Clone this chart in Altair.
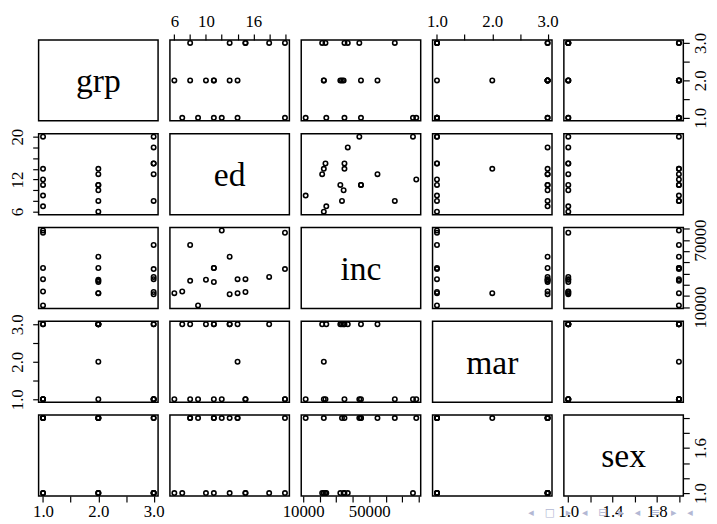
import altair as alt
import pandas as pd

variables = ["grp", "ed", "inc", "mar", "sex"]

grp = [1, 1, 1, 1, 1, 1, 2, 2, 2, 2, 2, 2, 2, 3, 3, 3, 3, 3, 3]
ed = [20, 14, 12, 11, 9, 7, 14, 13, 11, 11, 10, 8, 6, 20, 18, 15, 15, 13, 8]
inc = [76500, 35000, 78500, 45000, 11500, 24000,
       22500, 55000, 32500, 45000, 34500, 33500, 22500,
       44000, 37000, 23500, 35000, 21500, 65500]
mar = [1, 3, 1, 1, 1, 3, 2, 3, 3, 3, 3, 3, 1, 1, 3, 1, 1, 3, 1]
sex = [1, 2, 2, 2, 2, 1, 2, 2, 1, 2, 1, 2, 1, 2, 1, 1, 1, 1, 2]

df = pd.DataFrame({"grp": grp, "ed": ed, "inc": inc, "mar": mar, "sex": sex})

tick_values = {
    "grp": [1.0, 1.5, 2.0, 2.5, 3.0],
    "ed": [6, 8, 10, 12, 14, 16, 18, 20],
    "inc": [10000, 20000, 30000, 40000, 50000, 60000, 70000, 80000],
    "mar": [1.0, 1.5, 2.0, 2.5, 3.0],
    "sex": [1.0, 1.2, 1.4, 1.6, 1.8, 2.0],
}
top_labels = {"ed": [6, 10, 16], "mar": [1.0, 2.0, 3.0]}
bottom_labels = {"grp": [1.0, 2.0, 3.0], "inc": [10000, 50000], "sex": [1.0, 1.4, 1.8]}
left_labels = {"ed": [6, 12, 20], "mar": [1.0, 2.0, 3.0]}
right_labels = {"grp": [1.0, 2.0, 3.0], "inc": [10000, 70000], "sex": [1.0, 1.6]}
label_format = {"grp": ".1f", "ed": "d", "inc": "d", "mar": ".1f", "sex": ".1f"}
nav_symbols = "\u25c2\u2003\u25a1\u2003\u25b8\u2003\u25c2\u2003\u229f\u2003\u25b8\u2003\u25c2\u2003\u2261\u2003\u25b8\u2003\u25c2"

SERIF = "Liberation Serif"
PW, PH = 121, 82
TICK_FONT = 17


def domain(v):
    lo, hi = float(df[v].min()), float(df[v].max())
    r = hi - lo
    return [lo - 0.04 * r, hi + 0.04 * r]


def make_axis(v, orient, shown):
    cond = " || ".join(f"abs(datum.value - {s}) < 1e-6" for s in shown)
    expr = f"({cond}) ? format(datum.value, '{label_format[v]}') : ''"
    kw = dict(orient=orient, values=tick_values[v], labelExpr=expr, title=None,
              domain=False, grid=False, ticks=True, tickColor="black", tickSize=6,
              tickWidth=1.2, labelFont=SERIF, labelFontSize=TICK_FONT, labelColor="black",
              labelOverlap=False, labelFlush=False)
    if orient == "top":
        kw.update(labelPadding=4, labelAngle=0, labelAlign="center", labelBaseline="bottom")
    elif orient == "bottom":
        kw.update(labelPadding=2, labelAngle=0, labelAlign="center", labelBaseline="top")
    elif orient == "left":
        kw.update(labelPadding=6, labelAngle=270, labelAlign="center", labelBaseline="bottom")
    else:
        kw.update(labelPadding=3, labelAngle=270, labelAlign="center", labelBaseline="top")
    return alt.Axis(**kw)


def x_axis(i, j):
    v = variables[j]
    if i == 0 and j % 2 == 1:
        return make_axis(v, "top", top_labels[v])
    if i == 4 and j % 2 == 0:
        return make_axis(v, "bottom", bottom_labels[v])
    return None


def y_axis(i, j):
    v = variables[i]
    if j == 0 and i % 2 == 1:
        return make_axis(v, "left", left_labels[v])
    if j == 4 and i % 2 == 0:
        return make_axis(v, "right", right_labels[v])
    return None


panels = []
for i, vy in enumerate(variables):
    for j, vx in enumerate(variables):
        xa = x_axis(i, j)
        ya = y_axis(i, j)
        xs = alt.Scale(domain=domain(vx), nice=False, zero=False)
        ys = alt.Scale(domain=domain(vy), nice=False, zero=False)
        xkw = {"scale": xs, "axis": xa}
        ykw = {"scale": ys, "axis": ya}
        if i == j:
            d = domain(vx)
            mid = (d[0] + d[1]) / 2
            lab = pd.DataFrame({"pos": [mid], "name": [vx]})
            c = alt.Chart(lab).mark_text(font=SERIF, fontSize=34, color="black",
                                         baseline="alphabetic", align="center", dy=12).encode(
                x=alt.X("pos:Q", **xkw), y=alt.Y("pos:Q", **ykw), text="name:N")
            if i == 4:
                nav = alt.Chart(pd.DataFrame({"t": [nav_symbols]})).mark_text(
                    font="DejaVu Sans", fontSize=11, color="#b3b8d4", align="left",
                    baseline="middle").encode(x=alt.value(-36), y=alt.value(99), text="t:N")
                c = alt.layer(c, nav)
            c = c.properties(width=PW, height=PH)
        else:
            c = alt.Chart(df).mark_point(shape="circle", filled=False, color="black",
                                         size=20, strokeWidth=1.6, opacity=1).encode(
                x=alt.X(f"{vx}:Q", **xkw), y=alt.Y(f"{vy}:Q", **ykw)).properties(
                width=PW, height=PH)
        panels.append(c)

chart = alt.ConcatChart(concat=panels, columns=5,
                        spacing={"row": 13, "column": 12}, bounds="flush").properties(
    padding={"left": 0, "top": 0, "right": 0, "bottom": 0},
    background="white",
).configure_view(stroke="black", strokeWidth=1.5)

chart.save("out.html", embed_options={"renderer": "svg", "actions": False})
